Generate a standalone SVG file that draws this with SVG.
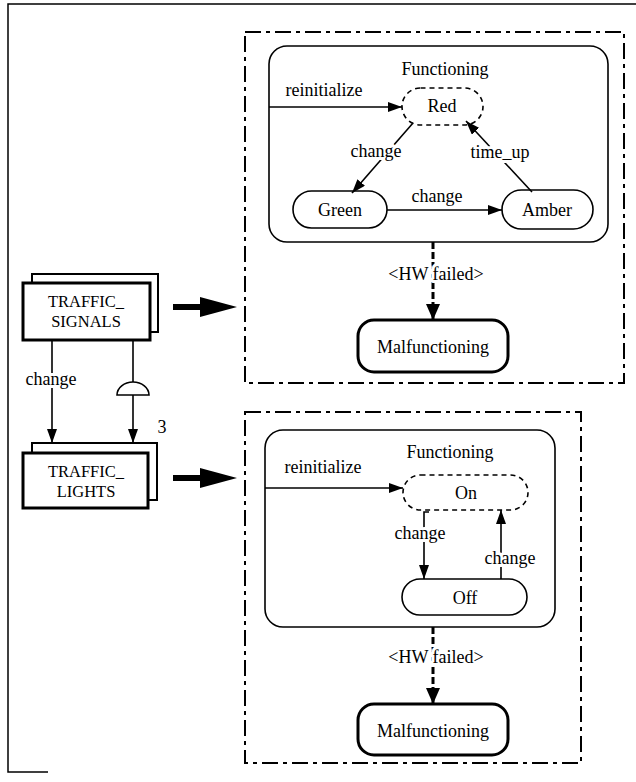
<svg xmlns="http://www.w3.org/2000/svg" width="636" height="782" viewBox="0 0 636 782" font-family="'Liberation Serif', 'DejaVu Serif', serif">
  <style>
    text { font-family: "Liberation Serif", "DejaVu Serif", serif; font-size: 18px; fill: #000; text-anchor: middle; }
    .cls { font-size: 16.5px; }
    .lbl { stroke: #fff; stroke-width: 6px; paint-order: stroke; stroke-linejoin: round; }
    .frame { fill: none; stroke: #000; stroke-width: 1.5; }
    .region { fill: none; stroke: #000; stroke-width: 2; stroke-dasharray: 16 5 4 5; }
    .super { fill: #fff; stroke: #000; stroke-width: 1.6; }
    .state { fill: #fff; stroke: #000; stroke-width: 1.6; }
    .initial { fill: #fff; stroke: #000; stroke-width: 1.6; stroke-dasharray: 5 4; }
    .fault { fill: #fff; stroke: #000; stroke-width: 3; }
    .obj-back { fill: #fff; stroke: #000; stroke-width: 2; }
    .obj-front { fill: #fff; stroke: #000; stroke-width: 3; }
    .edge { fill: none; stroke: #000; stroke-width: 1.6; marker-end: url(#head); }
    .guard { fill: none; stroke: #000; stroke-width: 3; stroke-dasharray: 7 3; marker-end: url(#head-big); }
    .fat { fill: none; stroke: #000; stroke-width: 6; }
  </style>
  <defs>
    <marker id="head" markerUnits="userSpaceOnUse" markerWidth="14" markerHeight="10" refX="14" refY="5" orient="auto">
      <path d="M0,0 L14,5 L0,10 z" fill="#000"/>
    </marker>
    <marker id="head-big" markerUnits="userSpaceOnUse" markerWidth="16" markerHeight="14" refX="16" refY="7" orient="auto">
      <path d="M0,0 L16,7 L0,14 z" fill="#000"/>
    </marker>
  </defs>

  <!-- page frame -->
  <path class="frame" d="M636,4 H8 V772 H48"/>

  <!-- behaviour regions -->
  <g id="region-signals">
    <rect class="region" x="245" y="32" width="379" height="351"/>
  </g>
  <g id="region-lights">
    <rect class="region" x="245" y="412" width="336" height="351"/>
  </g>

  <!-- signals state machine -->
  <g id="functioning-signals">
    <rect class="super" x="269" y="46" width="339" height="196" rx="18"/>
    <text x="445" y="75">Functioning</text>
  </g>
  <g id="red">
    <rect class="initial" x="402" y="88" width="81" height="37" rx="18.5"/>
    <text x="442" y="112">Red</text>
  </g>
  <g id="green">
    <rect class="state" x="293" y="191" width="94" height="37" rx="18.5"/>
    <text x="340" y="216">Green</text>
  </g>
  <g id="amber">
    <rect class="state" x="502" y="190" width="91" height="39" rx="19.5"/>
    <text x="547" y="216">Amber</text>
  </g>
  <g id="malfunctioning-signals">
    <rect class="fault" x="358" y="320" width="150" height="52" rx="16"/>
    <text x="433" y="353">Malfunctioning</text>
  </g>

  <!-- lights state machine -->
  <g id="functioning-lights">
    <rect class="super" x="265" y="430" width="290" height="197" rx="18"/>
    <text x="450" y="458">Functioning</text>
  </g>
  <g id="on">
    <rect class="initial" x="403" y="475" width="125" height="35" rx="17.5"/>
    <text x="466" y="499">On</text>
  </g>
  <g id="off">
    <rect class="state" x="402" y="579" width="125" height="36" rx="18"/>
    <text x="465" y="604">Off</text>
  </g>
  <g id="malfunctioning-lights">
    <rect class="fault" x="358" y="704" width="150" height="51" rx="16"/>
    <text x="433" y="737">Malfunctioning</text>
  </g>

  <!-- object classes -->
  <g id="traffic-signals">
    <rect class="obj-back" x="32" y="274" width="126" height="58"/>
    <rect class="obj-front" x="23" y="283" width="127" height="57"/>
    <text class="cls" x="86" y="307">TRAFFIC_</text>
    <text class="cls" x="86" y="327">SIGNALS</text>
  </g>
  <g id="traffic-lights">
    <rect class="obj-back" x="32" y="443" width="125" height="57"/>
    <rect class="obj-front" x="23" y="453" width="125" height="55"/>
    <text class="cls" x="86" y="477">TRAFFIC_</text>
    <text class="cls" x="86" y="497">LIGHTS</text>
  </g>

  <!-- connectors -->
  <g id="connectors">
    <!-- signals transitions -->
    <path class="edge" d="M269,107 H402"/>
    <path class="edge" d="M413,123 L352,193"/>
    <path class="edge" d="M387,210 H502"/>
    <path class="edge" d="M532,192 L466,121"/>
    <path class="guard" d="M433,242 V320"/>
    <text class="lbl" x="324" y="96">reinitialize</text>
    <text class="lbl" x="376" y="157">change</text>
    <text x="437" y="202">change</text>
    <text class="lbl" x="500" y="158">time_up</text>
    <text class="lbl" x="436" y="280">&lt;HW failed&gt;</text>

    <!-- lights transitions -->
    <path class="edge" d="M265,488 H403"/>
    <path class="edge" d="M429,512 H424 V579"/>
    <path class="edge" d="M501,579 V510"/>
    <path class="guard" d="M433,627 V704"/>
    <text class="lbl" x="323" y="473">reinitialize</text>
    <text class="lbl" x="420" y="539">change</text>
    <text class="lbl" x="510" y="564">change</text>
    <text class="lbl" x="436" y="663">&lt;HW failed&gt;</text>

    <!-- class relations -->
    <path class="edge" d="M52,340 V443"/>
    <text class="lbl" x="51" y="385">change</text>
    <path fill="none" stroke="#000" stroke-width="1.6" d="M133,340 V382"/>
    <path fill="#fff" stroke="#000" stroke-width="1.6" d="M117,395 A16,13 0 0 1 149,395 Z"/>
    <path class="edge" d="M133,395 V443"/>
    <text x="162" y="433">3</text>

    <!-- mapping arrows -->
    <path class="fat" d="M173,307 H205"/>
    <path d="M200,297 L237,307 L200,317 z" fill="#000"/>
    <path class="fat" d="M173,478 H205"/>
    <path d="M200,468 L237,478 L200,488 z" fill="#000"/>
  </g>
</svg>
